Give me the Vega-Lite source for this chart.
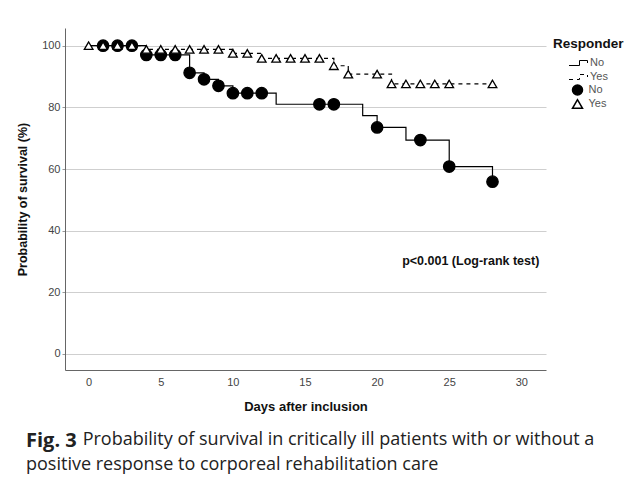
{
  "$schema": "https://vega.github.io/schema/vega-lite/v6.json",
  "width": 481,
  "height": 342,
  "autosize": "none",
  "padding": {"left": 65, "top": 28, "right": 81, "bottom": 111},
  "background": "white",
  "title": {
    "text": "Fig. 3",
    "subtitle": ["\u2800\u2800\u2800\u2800 Probability of survival in critically ill patients with or without a", "positive response to corporeal rehabilitation care"],
    "orient": "bottom",
    "anchor": "start",
    "frame": "group",
    "dx": -39,
    "offset": 18,
    "font": "Open Sans",
    "fontSize": 20,
    "fontWeight": "bold",
    "color": "#222",
    "subtitleFont": "Open Sans",
    "subtitleFontSize": 18,
    "subtitleColor": "#222",
    "subtitlePadding": -20,
    "subtitleLineHeight": 25
  },
  "datasets": {
    "curves": [
      {"day": 0, "survival": 100, "Responder": "No"},
      {"day": 4, "survival": 97, "Responder": "No"},
      {"day": 7, "survival": 91.2, "Responder": "No"},
      {"day": 8, "survival": 89.1, "Responder": "No"},
      {"day": 9, "survival": 87, "Responder": "No"},
      {"day": 10, "survival": 84.6, "Responder": "No"},
      {"day": 13, "survival": 81, "Responder": "No"},
      {"day": 19, "survival": 77.3, "Responder": "No"},
      {"day": 20, "survival": 73.5, "Responder": "No"},
      {"day": 22, "survival": 69.4, "Responder": "No"},
      {"day": 25, "survival": 60.8, "Responder": "No"},
      {"day": 28, "survival": 55.9, "Responder": "No"},
      {"day": 0, "survival": 100, "Responder": "Yes"},
      {"day": 4, "survival": 98.8, "Responder": "Yes"},
      {"day": 10, "survival": 97.5, "Responder": "Yes"},
      {"day": 12, "survival": 95.9, "Responder": "Yes"},
      {"day": 17, "survival": 93.5, "Responder": "Yes"},
      {"day": 18, "survival": 90.8, "Responder": "Yes"},
      {"day": 21, "survival": 87.6, "Responder": "Yes"},
      {"day": 28, "survival": 87.6, "Responder": "Yes"}
    ],
    "marks": [
      {"day": 1, "survival": 100, "group": "No"},
      {"day": 2, "survival": 100, "group": "No"},
      {"day": 3, "survival": 100, "group": "No"},
      {"day": 4, "survival": 97, "group": "No"},
      {"day": 5, "survival": 97, "group": "No"},
      {"day": 6, "survival": 97, "group": "No"},
      {"day": 7, "survival": 91.2, "group": "No"},
      {"day": 8, "survival": 89.1, "group": "No"},
      {"day": 9, "survival": 87, "group": "No"},
      {"day": 10, "survival": 84.6, "group": "No"},
      {"day": 11, "survival": 84.6, "group": "No"},
      {"day": 12, "survival": 84.6, "group": "No"},
      {"day": 16, "survival": 81, "group": "No"},
      {"day": 17, "survival": 81, "group": "No"},
      {"day": 20, "survival": 73.5, "group": "No"},
      {"day": 23, "survival": 69.4, "group": "No"},
      {"day": 25, "survival": 60.8, "group": "No"},
      {"day": 28, "survival": 55.9, "group": "No"},
      {"day": 0, "survival": 100, "group": "Yes"},
      {"day": 1, "survival": 100, "group": "Yes"},
      {"day": 2, "survival": 100, "group": "Yes"},
      {"day": 3, "survival": 100, "group": "Yes"},
      {"day": 4, "survival": 98.8, "group": "Yes"},
      {"day": 5, "survival": 98.8, "group": "Yes"},
      {"day": 6, "survival": 98.8, "group": "Yes"},
      {"day": 7, "survival": 98.8, "group": "Yes"},
      {"day": 8, "survival": 98.8, "group": "Yes"},
      {"day": 9, "survival": 98.8, "group": "Yes"},
      {"day": 10, "survival": 97.5, "group": "Yes"},
      {"day": 11, "survival": 97.5, "group": "Yes"},
      {"day": 12, "survival": 95.9, "group": "Yes"},
      {"day": 13, "survival": 95.9, "group": "Yes"},
      {"day": 14, "survival": 95.9, "group": "Yes"},
      {"day": 15, "survival": 95.9, "group": "Yes"},
      {"day": 16, "survival": 95.9, "group": "Yes"},
      {"day": 17, "survival": 93.5, "group": "Yes"},
      {"day": 18, "survival": 90.8, "group": "Yes"},
      {"day": 20, "survival": 90.8, "group": "Yes"},
      {"day": 21, "survival": 87.6, "group": "Yes"},
      {"day": 22, "survival": 87.6, "group": "Yes"},
      {"day": 23, "survival": 87.6, "group": "Yes"},
      {"day": 24, "survival": 87.6, "group": "Yes"},
      {"day": 25, "survival": 87.6, "group": "Yes"},
      {"day": 28, "survival": 87.6, "group": "Yes"}
    ],
    "note": [
      {"day": 31.25, "survival": 30.2, "label": "p<0.001 (Log-rank test)"}
    ]
  },
  "encoding": {
    "x": {
      "field": "day", "type": "quantitative",
      "scale": {"domain": [-1.64, 31.71], "nice": false, "zero": false},
      "axis": {
        "title": "Days after inclusion",
        "values": [0, 5, 10, 15, 20, 25, 30],
        "grid": false, "ticks": false,
        "domainColor": "#666", "domainWidth": 1,
        "labelFont": "Liberation Sans", "labelFontSize": 11, "labelColor": "#444",
        "labelPadding": 6,
        "titleFont": "Liberation Sans", "titleFontSize": 13, "titleFontWeight": "bold", "titleColor": "#111",
        "titlePadding": 13
      }
    },
    "y": {
      "field": "survival", "type": "quantitative",
      "scale": {"domain": [-5.19, 105.74], "nice": false, "zero": false},
      "axis": {
        "title": "Probability of survival (%)",
        "values": [0, 20, 40, 60, 80, 100],
        "grid": true, "gridColor": "#cfcfcf", "gridWidth": 1,
        "ticks": true, "tickSize": 3, "tickColor": "#999",
        "domainColor": "#666", "domainWidth": 1,
        "labelFont": "Liberation Sans", "labelFontSize": 11, "labelColor": "#444",
        "labelPadding": 2,
        "titleFont": "Liberation Sans", "titleFontSize": 12.5, "titleFontWeight": "bold", "titleColor": "#111",
        "titlePadding": 12
      }
    }
  },
  "layer": [
    {
      "data": {"name": "curves"},
      "mark": {"type": "line", "interpolate": "step-after", "color": "black", "strokeWidth": 1.2},
      "encoding": {
        "strokeDash": {
          "field": "Responder", "type": "nominal",
          "scale": {"range": [[1, 0], [4, 4]]},
          "legend": {
            "title": "Responder",
            "orient": "none", "legendX": 488, "legendY": 9,
            "titleFont": "Liberation Sans", "titleFontSize": 13.5, "titleFontWeight": "bold", "titleColor": "#111",
            "titleAnchor": "start",
            "symbolType": "M-1.9,0.5H0.2V-0.5H1.8V0",
            "symbolSize": 100, "symbolStrokeColor": "black", "symbolStrokeWidth": 1,
            "symbolOffset": 20,
            "labelFont": "Liberation Sans", "labelFontSize": 11, "labelColor": "#555",
            "labelOffset": 6, "rowPadding": 2, "padding": 0, "titlePadding": 7
          }
        }
      }
    },
    {
      "data": {"name": "marks"},
      "mark": {"type": "point", "filled": false, "stroke": "black", "strokeWidth": 1.3, "opacity": 1},
      "encoding": {
        "shape": {
          "field": "group", "type": "nominal",
          "scale": {"range": ["circle", "triangle-up"]},
          "legend": {
            "title": null,
            "orient": "none", "legendX": 506.5, "legendY": 56,
            "labelFont": "Liberation Sans", "labelFontSize": 11, "labelColor": "#555",
            "labelOffset": 5, "rowPadding": -3.5, "padding": 0
          }
        },
        "fill": {
          "field": "group", "type": "nominal",
          "scale": {"range": ["black", "white"]},
          "legend": {
            "title": null,
            "orient": "none", "legendX": 506.5, "legendY": 56,
            "labelFont": "Liberation Sans", "labelFontSize": 11, "labelColor": "#555",
            "labelOffset": 5, "rowPadding": -3.5, "padding": 0
          }
        },
        "size": {"condition": {"test": "datum.group === 'No'", "value": 130}, "value": 75}
      }
    },
    {
      "data": {"name": "note"},
      "mark": {"type": "text", "align": "right", "baseline": "middle", "font": "Liberation Sans", "fontSize": 12.5, "fontWeight": "bold", "color": "#111"},
      "encoding": {"text": {"field": "label"}}
    }
  ],
  "config": {"view": {"stroke": null}}
}
